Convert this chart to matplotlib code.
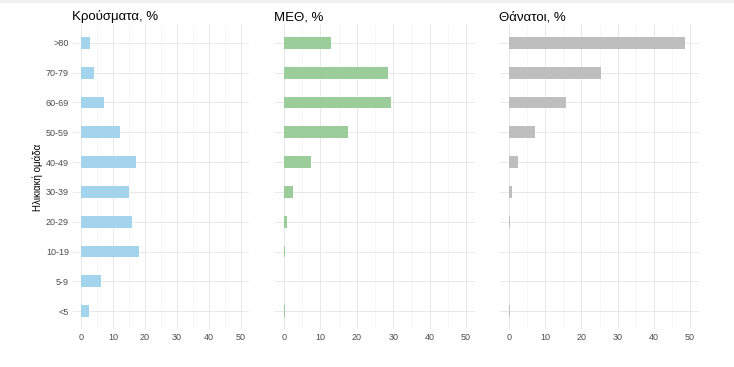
import matplotlib
matplotlib.use("Agg")
import matplotlib.pyplot as plt
import numpy as np

plt.rcParams['font.family'] = ['Liberation Sans', 'DejaVu Sans']

age_groups = ["<5", "5-9", "10-19", "20-29", "30-39", "40-49", "50-59", "60-69", "70-79", ">80"]
cases = [2.5, 6.2, 18.2, 15.9, 15.1, 17.2, 12.3, 7.3, 4.2, 2.9]
icu = [0.3, 0.1, 0.3, 0.9, 2.5, 7.5, 17.7, 29.3, 28.7, 12.8]
deaths = [0.2, 0.05, 0.1, 0.4, 0.7, 2.5, 7.1, 15.8, 25.4, 48.6]
titles = ["Κρούσματα, %", "ΜΕΘ, %", "Θάνατοι, %"]
colors = ["#A4D3EE", "#9BCD9B", "#BEBEBE"]
x_ticks = [0, 10, 20, 30, 40, 50]
y_label = "Ηλικιακή ομάδα"

W, H = 734, 367
fig = plt.figure(figsize=(W / 100, H / 100), dpi=100)

# top faint band
fig.add_artist(plt.Rectangle((0, 1 - 3 / H), 1, 3 / H, transform=fig.transFigure,
                             color="#EFEFEF", lw=0))

panels_px = [(73, 249), (275, 475), (500, 699)]
top_px, bot_px = 25, 329
series = [cases, icu, deaths]
ypos = np.arange(len(age_groups))

for i, ((x0, x1), vals) in enumerate(zip(panels_px, series)):
    ax = fig.add_axes([x0 / W, 1 - bot_px / H, (x1 - x0) / W, (bot_px - top_px) / H])
    ax.set_xlim(-2.5, 52.5)
    ax.set_ylim(-0.6, len(age_groups) - 0.4)
    # grid
    for m in [5, 15, 25, 35, 45]:
        ax.axvline(m, color="#F3F3F3", lw=0.5, zorder=0)
    for t in x_ticks:
        ax.axvline(t, color="#E8E8E8", lw=0.7, zorder=0)
    for y in ypos:
        ax.axhline(y, color="#E8E8E8", lw=0.7, zorder=0)
    ax.barh(ypos, vals, height=0.4, color=colors[i], zorder=2)
    for s in ax.spines.values():
        s.set_visible(False)
    ax.set_xticks(x_ticks)
    ax.set_xticklabels([str(t) for t in x_ticks], fontsize=6.5, color="#4D4D4D")
    ax.tick_params(axis="x", length=0, pad=3)
    ax.tick_params(axis="y", length=0, pad=3)
    ax.set_yticks(ypos)
    if i == 0:
        ax.set_yticklabels(age_groups, fontsize=6.5, color="#4D4D4D")
        ax.set_ylabel(y_label, fontsize=7, color="black", labelpad=2)
    else:
        ax.set_yticklabels([])
    ax.set_title(titles[i], loc="left", fontsize=9.5, color="black", pad=3.5, x=-0.005)
    ax.patch.set_alpha(0)

fig.savefig("out.png", dpi=100, facecolor="white")
